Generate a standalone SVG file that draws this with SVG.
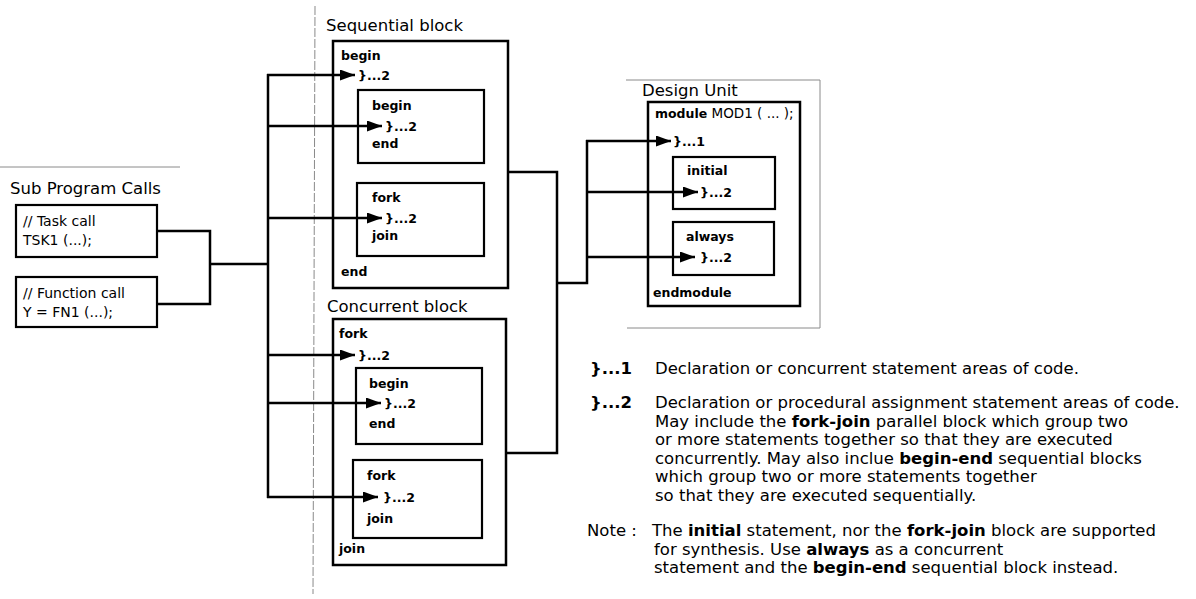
<svg xmlns="http://www.w3.org/2000/svg" width="1196" height="599" viewBox="0 0 1196 599">
<defs>
<marker id="ah" markerUnits="userSpaceOnUse" markerWidth="15" markerHeight="11" refX="15" refY="5.5" orient="auto">
<path d="M0,0 L15,5.5 L0,11 z" fill="#000"/>
</marker>
<style>
text{font-family:"DejaVu Sans","Liberation Sans",sans-serif;fill:#000}
.ttl{font-size:16.5px}
.kw{font-size:12.5px;font-weight:bold}
.cd{font-size:14px}
.nt{font-size:16.5px}
.b{font-weight:bold}
.box{fill:none;stroke:#000;stroke-width:2.5}
.ibox{fill:none;stroke:#000;stroke-width:2.2}
.wire{fill:none;stroke:#000;stroke-width:2.5}
.arr{fill:none;stroke:#000;stroke-width:2.5;marker-end:url(#ah)}
.faint{fill:none;stroke:#8a8a8a;stroke-width:1}
</style>
</defs>
<rect width="1196" height="599" fill="#fff"/>

<g id="frames">
<line class="faint" x1="315" y1="6" x2="313" y2="594" stroke-dasharray="9,2"/>
<line class="faint" x1="0" y1="167" x2="180" y2="167"/>
<polyline class="faint" points="626,80 820,80 820,328 627,328"/>
</g>

<g id="subprog">
<text class="ttl" x="10" y="194">Sub Program Calls</text>
<g id="taskcall">
<rect class="ibox" x="16" y="205" width="141" height="52"/>
<text class="cd" x="23" y="226">// Task call</text>
<text class="cd" x="23" y="245">TSK1 (...);</text>
</g>
<g id="funccall">
<rect class="ibox" x="16" y="277" width="141" height="50"/>
<text class="cd" x="23" y="298">// Function call</text>
<text class="cd" x="23" y="317">Y = FN1 (...);</text>
</g>
</g>

<g id="seqblock">
<text class="ttl" x="326" y="31">Sequential block</text>
<rect class="box" x="333" y="41" width="175" height="247"/>
<text class="kw" x="341" y="60">begin</text>
<text class="kw" x="358" y="80">}...2</text>
<g id="seq-begin">
<rect class="ibox" x="358" y="90" width="126" height="73"/>
<text class="kw" x="372" y="110">begin</text>
<text class="kw" x="385" y="131">}...2</text>
<text class="kw" x="372" y="148">end</text>
</g>
<g id="seq-fork">
<rect class="ibox" x="357" y="183" width="127" height="73"/>
<text class="kw" x="372" y="202">fork</text>
<text class="kw" x="385" y="223">}...2</text>
<text class="kw" x="372" y="240">join</text>
</g>
<text class="kw" x="341" y="276">end</text>
</g>

<g id="conblock">
<text class="ttl" x="327" y="312">Concurrent block</text>
<rect class="box" x="333" y="319" width="173" height="246"/>
<text class="kw" x="339" y="338">fork</text>
<text class="kw" x="358" y="360">}...2</text>
<g id="con-begin">
<rect class="ibox" x="356" y="368" width="126" height="76"/>
<text class="kw" x="369" y="388">begin</text>
<text class="kw" x="384" y="408">}...2</text>
<text class="kw" x="369" y="428">end</text>
</g>
<g id="con-fork">
<rect class="ibox" x="353" y="460" width="129" height="78"/>
<text class="kw" x="367" y="480">fork</text>
<text class="kw" x="383" y="502">}...2</text>
<text class="kw" x="367" y="523">join</text>
</g>
<text class="kw" x="339" y="553">join</text>
</g>

<g id="designunit">
<text class="ttl" x="642" y="96">Design Unit</text>
<rect class="box" x="648" y="102" width="152" height="204"/>
<text x="655" y="118"><tspan class="kw">module</tspan><tspan style="font-size:13.5px"> MOD1 ( ... );</tspan></text>
<text class="kw" x="673" y="146">}...1</text>
<g id="du-initial">
<rect class="ibox" x="673" y="157" width="102" height="52"/>
<text class="kw" x="687" y="175">initial</text>
<text class="kw" x="700" y="197">}...2</text>
</g>
<g id="du-always">
<rect class="ibox" x="673" y="222" width="101" height="53"/>
<text class="kw" x="686" y="241">always</text>
<text class="kw" x="700" y="262">}...2</text>
</g>
<text class="kw" x="653" y="297">endmodule</text>
</g>

<g id="connectors">
<polyline class="wire" points="157,231 210,231 210,304 157,304"/>
<line class="wire" x1="210" y1="264" x2="268" y2="264"/>
<line class="wire" x1="268" y1="74" x2="268" y2="498"/>
<line class="arr" x1="267" y1="75" x2="355" y2="75"/>
<line class="arr" x1="267" y1="126" x2="382" y2="126"/>
<line class="arr" x1="267" y1="218" x2="382" y2="218"/>
<line class="arr" x1="267" y1="355" x2="355" y2="355"/>
<line class="arr" x1="267" y1="403" x2="381" y2="403"/>
<line class="arr" x1="267" y1="497" x2="378" y2="497"/>
<polyline class="wire" points="508,172 557,172 557,453 506,453"/>
<polyline class="wire" points="557,283 587,283 587,140"/>
<line class="arr" x1="586" y1="141" x2="671" y2="141"/>
<line class="arr" x1="586" y1="192" x2="698" y2="192"/>
<line class="arr" x1="586" y1="257" x2="695" y2="257"/>
</g>

<g id="notes">
<text class="nt b" x="590" y="374">}...1</text>
<text class="nt" x="655" y="374">Declaration or concurrent statement areas of code.</text>
<text class="nt b" x="590" y="408">}...2</text>
<text class="nt" x="655" y="408">Declaration or procedural assignment statement areas of code.</text>
<text class="nt" x="655" y="426.5">May include the <tspan class="b">fork-join</tspan> parallel block which group two</text>
<text class="nt" x="655" y="445">or more statements together so that they are executed</text>
<text class="nt" x="655" y="463.5">concurrently. May also inclue <tspan class="b">begin-end</tspan> sequential blocks</text>
<text class="nt" x="655" y="482">which group two or more statements together</text>
<text class="nt" x="655" y="500.5">so that they are executed sequentially.</text>
<text class="nt" x="587" y="536">Note :</text>
<text class="nt" x="652" y="536">The <tspan class="b">initial</tspan> statement, nor the <tspan class="b">fork-join</tspan> block are supported</text>
<text class="nt" x="654" y="554.5">for synthesis. Use <tspan class="b">always</tspan> as a concurrent</text>
<text class="nt" x="654" y="573">statement and the <tspan class="b">begin-end</tspan> sequential block instead.</text>
</g>
</svg>
